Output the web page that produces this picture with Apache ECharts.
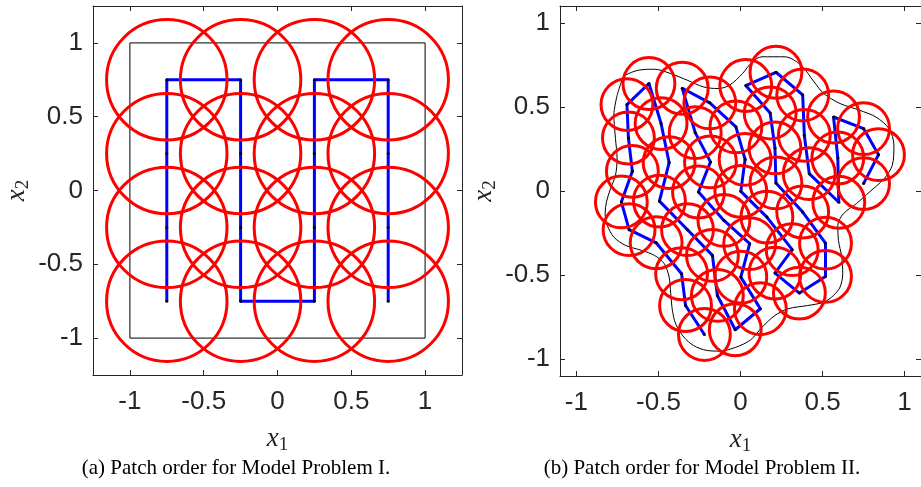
<!DOCTYPE html>
<html>
<head>
<meta charset="utf-8">
<script src="https://cdn.jsdelivr.net/npm/echarts@6/dist/echarts.min.js"></script>
<style>html,body{margin:0;padding:0;background:#fff;}#c{width:921px;height:487px;}</style>
</head>
<body>
<div id="c"></div>
<script>
// ---- Panel (a): Model Problem I ----
const tickValues = [-1, -0.5, 0, 0.5, 1];
const squareX = [-1, 1, 1, -1, -1];
const squareY = [-1, -1, 1, 1, -1];
const pathAX = [-0.75, -0.75, -0.75, -0.75, -0.25, -0.25, -0.25, -0.25, 0.25, 0.25, 0.25, 0.25, 0.75, 0.75, 0.75, 0.75];
const pathAY = [-0.75, -0.25, 0.25, 0.75, 0.75, 0.25, -0.25, -0.75, -0.75, -0.25, 0.25, 0.75, 0.75, 0.25, -0.25, -0.75];
const radiusA = 0.408;

// ---- Panel (b): Model Problem II ----
const pathBX = [-0.220, -0.335, -0.359, -0.514, -0.679, -0.726, -0.659, -0.683, -0.692, -0.558,
  -0.484, -0.435, -0.494, -0.323, -0.171, -0.141, -0.032, 0.121, 0.002, 0.056,
  -0.101, -0.256, -0.183, -0.276, -0.355, -0.187, -0.028, 0.028, 0.002, 0.161,
  0.315, 0.210, 0.359, 0.518, 0.518, 0.379, 0.216, 0.210, 0.181, 0.032,
  0.216, 0.379, 0.389, 0.419, 0.599, 0.593, 0.567, 0.750, 0.841, 0.750];
const pathBY = [-0.853, -0.681, -0.492, -0.308, -0.230, -0.065, 0.117, 0.315, 0.514, 0.639,
  0.401, 0.169, -0.060, -0.230, -0.383, -0.621, -0.825, -0.700, -0.512, -0.313,
  -0.175, -0.006, 0.173, 0.347, 0.611, 0.524, 0.381, 0.188, -0.002, -0.155,
  -0.349, -0.488, -0.607, -0.508, -0.310, -0.125, 0.048, 0.256, 0.464, 0.627,
  0.706, 0.571, 0.331, 0.103, -0.067, 0.196, 0.440, 0.371, 0.216, 0.044];
const radiusB = 0.158;
const boundX = [-0.752, -0.722, -0.702, -0.623, -0.524, -0.425, -0.325, -0.226, -0.137, -0.067,
  0.012, 0.071, 0.131, 0.270, 0.369, 0.448, 0.508, 0.607, 0.726, 0.825,
  0.905, 0.935, 0.925, 0.875, 0.786, 0.706, 0.627, 0.593, 0.597, 0.617,
  0.623, 0.607, 0.567, 0.508, 0.409, 0.290, 0.210, 0.131, 0.062, -0.028,
  -0.127, -0.206, -0.286, -0.345, -0.395, -0.415, -0.425, -0.435, -0.464, -0.524,
  -0.603, -0.702, -0.772, -0.812, -0.825, -0.817, -0.792, -0.762, -0.752, -0.762,
  -0.772, -0.752];
const boundY = [0.569, 0.659, 0.688, 0.718, 0.724, 0.698, 0.659, 0.619, 0.609, 0.629,
  0.698, 0.768, 0.798, 0.798, 0.748, 0.649, 0.579, 0.520, 0.480, 0.440,
  0.371, 0.272, 0.153, 0.073, -0.006, -0.075, -0.135, -0.204, -0.294, -0.393,
  -0.492, -0.571, -0.621, -0.661, -0.681, -0.700, -0.740, -0.810, -0.885, -0.929,
  -0.952, -0.948, -0.919, -0.869, -0.790, -0.710, -0.611, -0.512, -0.433, -0.383,
  -0.353, -0.323, -0.274, -0.204, -0.135, -0.065, 0.014, 0.093, 0.192, 0.312,
  0.450, 0.569];

const captionA = '(a) Patch order for Model Problem I.';
const captionB = '(b) Patch order for Model Problem II.';

function pairs(xs, ys) { return xs.map((x, i) => [x, ys[i]]); }
function circles(xs, ys, r) { return xs.map((x, i) => [x, ys[i], r]); }

const axisColor = '#262626';
const nameStyle = {
  rich: {
    i: { fontFamily: 'Liberation Serif', fontStyle: 'italic', fontSize: 27, color: axisColor },
    s: { fontFamily: 'Liberation Serif', fontSize: 19, color: axisColor, padding: [14, 0, 0, 0] }
  }
};
function mkAxis(gridIndex, pos, min, max, showLabels, name, nameGap, isY) {
  const a = {
    type: 'value', gridIndex, position: pos, min, max,
    axisLine: { show: true, onZero: false, lineStyle: { color: axisColor, width: 1 } },
    axisTick: { show: true, inside: true, length: 5, customValues: tickValues, lineStyle: { color: axisColor, width: 1 } },
    axisLabel: { show: showLabels, customValues: tickValues, fontFamily: 'Liberation Sans', fontSize: 26, color: axisColor, margin: isY ? 10 : 14 },
    splitLine: { show: false }
  };
  if (name) {
    a.name = name; a.nameLocation = 'middle'; a.nameGap = nameGap; a.nameTextStyle = nameStyle;
    if (isY) a.nameRotate = 90;
  }
  return a;
}
function circleSeries(xi, yi, data) {
  return {
    type: 'custom', xAxisIndex: xi, yAxisIndex: yi, data, z: 5,
    encode: { x: 0, y: 1 },
    renderItem: function (params, api) {
      const c = api.coord([api.value(0), api.value(1)]);
      const s = api.size([api.value(2), api.value(2)]);
      return { type: 'circle', shape: { cx: c[0], cy: c[1], r: s[0] }, style: { fill: 'none', stroke: '#ff0000', lineWidth: 3 } };
    }
  };
}
function pathSeries(xi, yi, data) {
  return {
    type: 'line', xAxisIndex: xi, yAxisIndex: yi, data, z: 3,
    symbol: 'circle', symbolSize: 3, showSymbol: true,
    itemStyle: { color: '#000' },
    lineStyle: { color: '#0000ff', width: 3 }
  };
}

const option = {
  animation: false,
  backgroundColor: '#fff',
  grid: [
    { left: 93, top: 6, width: 369, height: 369 },
    { left: 560, top: 6, width: 370, height: 370 }
  ],
  xAxis: [
    mkAxis(0, 'bottom', -1.25, 1.25, true, '{i|x}{s|1}', 47, false),
    mkAxis(0, 'top', -1.25, 1.25, false, null, 0, false),
    mkAxis(1, 'bottom', -1.1, 1.1, true, '{i|x}{s|1}', 47, false),
    mkAxis(1, 'top', -1.1, 1.1, false, null, 0, false)
  ],
  yAxis: [
    mkAxis(0, 'left', -1.25, 1.25, true, '{i|x}{s|2}', 60, true),
    mkAxis(0, 'right', -1.25, 1.25, false, null, 0, true),
    mkAxis(1, 'left', -1.1, 1.1, true, '{i|x}{s|2}', 60, true),
    mkAxis(1, 'right', -1.1, 1.1, false, null, 0, true)
  ],
  series: [
    { type: 'line', xAxisIndex: 0, yAxisIndex: 0, data: pairs(squareX, squareY), symbol: 'none', z: 2,
      lineStyle: { color: '#000', width: 1 } },
    pathSeries(0, 0, pairs(pathAX, pathAY)),
    circleSeries(0, 0, circles(pathAX, pathAY, radiusA)),
    { type: 'line', xAxisIndex: 2, yAxisIndex: 2, data: pairs(boundX, boundY), symbol: 'none', z: 2, smooth: 0.3,
      lineStyle: { color: '#000', width: 1 } },
    pathSeries(2, 2, pairs(pathBX, pathBY)),
    circleSeries(2, 2, circles(pathBX, pathBY, radiusB))
  ],
  graphic: [
    { type: 'text', x: 236, y: 468, style: { text: captionA, fontFamily: 'Liberation Serif', fontSize: 21, fill: '#000', align: 'center', verticalAlign: 'middle', textAlign: 'center', textVerticalAlign: 'middle' } },
    { type: 'text', x: 702, y: 468, style: { text: captionB, fontFamily: 'Liberation Serif', fontSize: 21, fill: '#000', align: 'center', verticalAlign: 'middle', textAlign: 'center', textVerticalAlign: 'middle' } }
  ]
};
const chart = echarts.init(document.getElementById('c'), null, { renderer: 'canvas' });
chart.setOption(option);
</script>
</body>
</html>
